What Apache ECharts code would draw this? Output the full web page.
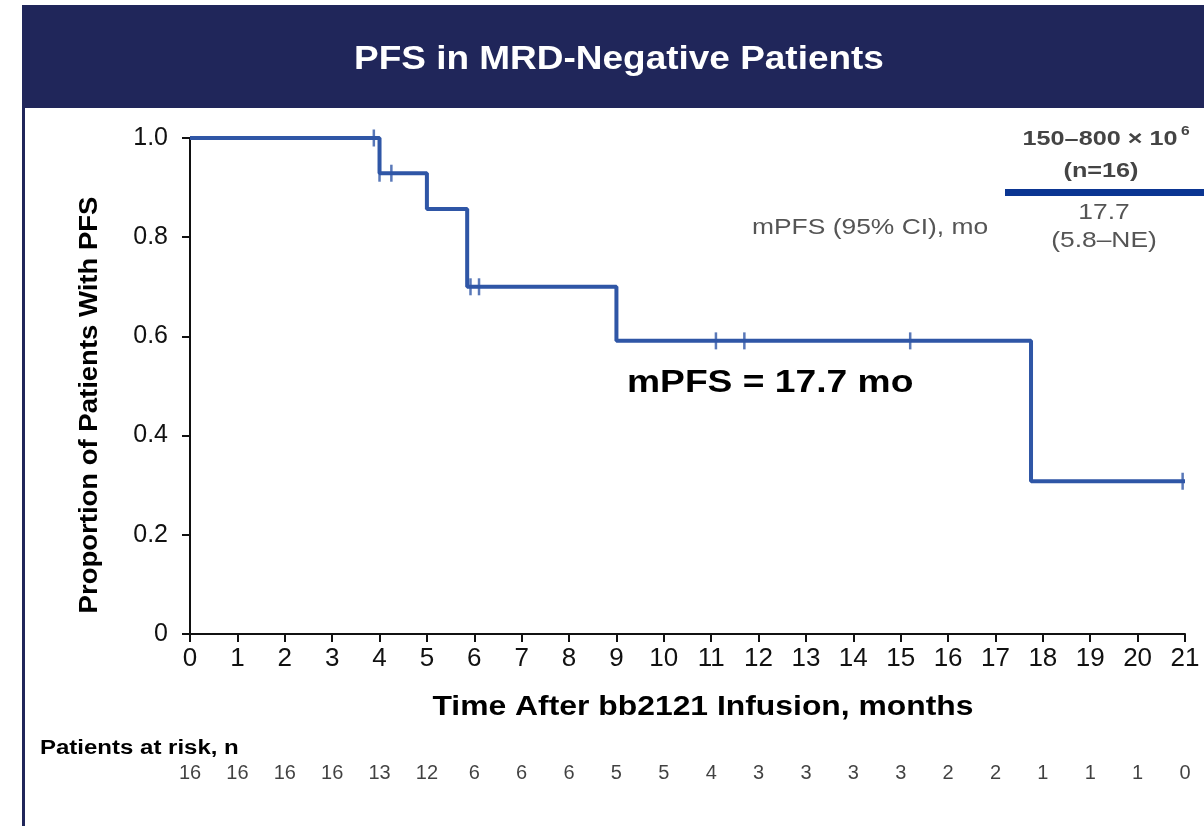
<!DOCTYPE html>
<html>
<head>
<meta charset="utf-8">
<script src="https://cdn.jsdelivr.net/npm/echarts@6/dist/echarts.min.js"></script>
<style>
  html, body { margin: 0; padding: 0; background: #fff; }
  #chart { width: 1204px; height: 826px; }
</style>
</head>
<body>
<div id="chart"></div>
<script>
// KM step curve: event times (months) and survival after each step
const stepTimes = [0, 4.0, 5.0, 5.85, 9.0, 17.75, 21.0]
const stepSurv = [1.0, 0.929, 0.857, 0.700, 0.591, 0.308, 0.308]

// censored observations
const censorTimes = [3.88, 4.0, 4.25, 5.92, 6.1, 11.1, 11.7, 15.2, 20.95]
const censorSurv = [1.0, 0.929, 0.929, 0.700, 0.700, 0.591, 0.591, 0.591, 0.308]

const monthTicks = [0, 1, 2, 3, 4, 5, 6, 7, 8, 9, 10, 11, 12, 13, 14, 15, 16, 17, 18, 19, 20, 21]
const atRisk = [16, 16, 16, 16, 13, 12, 6, 6, 6, 5, 5, 4, 3, 3, 3, 3, 2, 2, 1, 1, 1, 0]

const navy = '#20265a'
const curveColor = '#2f56a6'
const font = 'Liberation Sans, Arial, sans-serif'

// the source slide is a bit wide, so text gets stretched sideways
function label(x, y, text, size, opts = {}) {
  return {
    type: 'text',
    x,
    y,
    rotation: opts.rotation || 0,
    scaleX: opts.scaleX || 1.2,
    style: {
      text,
      fill: opts.color || '#000',
      font: (opts.bold ? 'bold ' : '') + size + 'px ' + font,
      align: opts.align || 'center',
      verticalAlign: 'middle',
    },
  }
}

const chart = echarts.init(document.getElementById('chart'))

chart.setOption({
  backgroundColor: '#fff',
  animation: false,
  textStyle: { fontFamily: font },
  grid: [
    { left: 190, right: 19, top: 138, bottom: 192 },
    { left: 190, right: 19, top: 763, height: 20 },
  ],
  xAxis: [
    {
      type: 'value',
      gridIndex: 0,
      min: 0,
      max: 21,
      interval: 1,
      axisLine: { lineStyle: { color: '#111', width: 2 } },
      axisTick: { length: 8, lineStyle: { color: '#111', width: 2 } },
      axisLabel: { fontSize: 26, color: '#111', margin: 12, fontFamily: font },
      splitLine: { show: false },
    },
    { type: 'value', gridIndex: 1, min: 0, max: 21, show: false },
  ],
  yAxis: [
    {
      type: 'value',
      gridIndex: 0,
      min: 0,
      max: 1,
      interval: 0.2,
      axisLine: { show: true, lineStyle: { color: '#111', width: 2 } },
      axisTick: { show: true, length: 8, lineStyle: { color: '#111', width: 2 } },
      axisLabel: {
        fontSize: 25,
        color: '#111',
        margin: 22,
        fontFamily: font,
        formatter: v => (v === 0 ? '0' : v.toFixed(1)),
      },
      splitLine: { show: false },
    },
    { type: 'value', gridIndex: 1, min: -1, max: 1, show: false },
  ],
  series: [
    {
      type: 'line',
      step: 'end',
      xAxisIndex: 0,
      yAxisIndex: 0,
      data: stepTimes.map((t, i) => [t, stepSurv[i]]),
      showSymbol: false,
      lineStyle: { color: curveColor, width: 4 },
      z: 3,
    },
    {
      type: 'scatter',
      xAxisIndex: 0,
      yAxisIndex: 0,
      data: censorTimes.map((t, i) => [t, censorSurv[i]]),
      symbol: 'rect',
      symbolSize: [2.5, 17],
      itemStyle: { color: curveColor },
      z: 4,
    },
    {
      type: 'scatter',
      xAxisIndex: 1,
      yAxisIndex: 1,
      data: monthTicks.map((m, i) => [m, 0, atRisk[i]]),
      symbolSize: 0,
      label: {
        show: true,
        position: 'inside',
        fontSize: 20,
        color: '#111',
        fontFamily: font,
        formatter: p => String(p.value[2]),
      },
    },
  ],
  graphic: [
    { type: 'rect', shape: { x: 22, y: 5, width: 1182, height: 103 }, style: { fill: navy } },
    { type: 'rect', shape: { x: 22, y: 5, width: 3, height: 821 }, style: { fill: navy } },
    label(619, 60, 'PFS in MRD-Negative Patients', 33, { bold: true, color: '#fff', scaleX: 1.12 }),
    label(703, 708, 'Time After bb2121 Infusion, months', 27, { bold: true, scaleX: 1.18 }),
    label(90, 405, 'Proportion of Patients With PFS', 25, { bold: true, scaleX: 1.1, rotation: Math.PI / 2 }),
    label(627, 383, 'mPFS = 17.7 mo', 31, { bold: true, align: 'left' }),
    label(1100, 139, '150–800 × 10', 21, { bold: true, color: '#444' }),
    label(1181, 131, '6', 13, { bold: true, color: '#444', align: 'left' }),
    label(1101, 171, '(n=16)', 21, { bold: true, color: '#444' }),
    { type: 'rect', shape: { x: 1005, y: 189, width: 199, height: 7 }, style: { fill: '#0b3592' } },
    label(1104, 213, '17.7', 22, { color: '#555' }),
    label(1104, 241, '(5.8–NE)', 22, { color: '#555' }),
    label(752, 228, 'mPFS (95% CI), mo', 22, { color: '#555', align: 'left' }),
    label(40, 748, 'Patients at risk, n', 20, { bold: true, align: 'left' }),
  ],
})
</script>
</body>
</html>
